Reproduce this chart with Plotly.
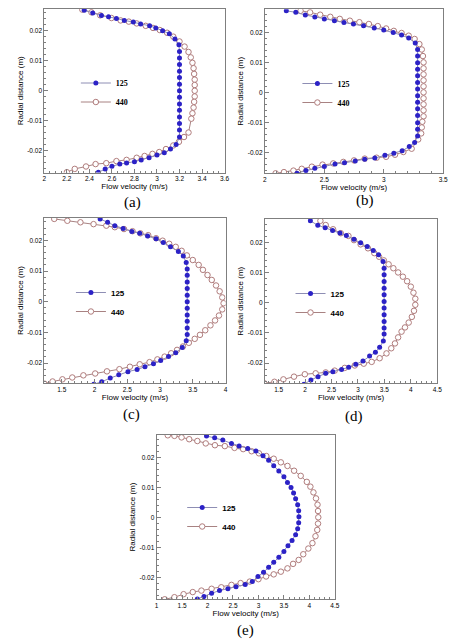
import plotly.graph_objects as go

# ---------------- data ----------------
series_names = ["125", "440"]
panel_labels = ["(a)", "(b)", "(c)", "(d)", "(e)"]
y_tick_vals = [-0.02, -0.01, 0, 0.01, 0.02]
y_tick_text = ["-0.02", "-0.01", "0", "0.01", "0.02"]

# panel (a)
a125_v = [2.354, 2.43, 2.507, 2.57, 2.64, 2.71, 2.79, 2.855, 2.935, 2.99, 3.05, 3.11, 3.16, 3.195, 3.20,
          3.20, 3.20, 3.20, 3.20, 3.20, 3.20, 3.20, 3.20, 3.20, 3.20, 3.20, 3.20,
          3.20, 3.17, 3.12, 3.065, 3.00, 2.93, 2.86, 2.80, 2.73, 2.67, 2.60, 2.54, 2.48]
a125_r = [0.0268, 0.0259, 0.0250, 0.0246, 0.0240, 0.0234, 0.0229, 0.0222, 0.0216, 0.0209, 0.0200, 0.0190, 0.0172, 0.0153, 0.0131,
          0.0109, 0.0087, 0.0065, 0.0044, 0.0022, 0.0, -0.0022, -0.0044, -0.0065, -0.0087, -0.0109, -0.0131,
          -0.0154, -0.0179, -0.0194, -0.0206, -0.0214, -0.0223, -0.0230, -0.0236, -0.0240, -0.0244, -0.0251, -0.0260, -0.0271]
a440_v = [2.337, 2.418, 2.496, 2.596, 2.677, 2.75, 2.82, 2.90, 2.965, 3.025, 3.09, 3.145, 3.20, 3.245, 3.28,
          3.30, 3.315, 3.325, 3.33, 3.335, 3.335, 3.335, 3.335, 3.33, 3.325, 3.315, 3.305,
          3.28, 3.24, 3.195, 3.145, 3.08, 3.02, 2.96, 2.89, 2.82, 2.73, 2.64, 2.55, 2.455, 2.37, 2.27, 2.20]
a440_r = [0.0270, 0.0261, 0.0251, 0.0242, 0.0234, 0.0230, 0.0224, 0.0216, 0.0209, 0.0202, 0.0193, 0.0180, 0.0164, 0.0147, 0.0129,
          0.0111, 0.0093, 0.0075, 0.0056, 0.0037, 0.0019, 0.0, -0.0019, -0.0037, -0.0056, -0.0075, -0.0093,
          -0.0139, -0.0154, -0.0170, -0.0182, -0.0194, -0.0204, -0.0210, -0.0217, -0.0223, -0.0230, -0.0234, -0.0241, -0.0244, -0.0252, -0.0260, -0.0271]

# panel (b)
b125_v = [2.18, 2.26, 2.34, 2.42, 2.50, 2.585, 2.665, 2.745, 2.83, 2.92, 3.00, 3.08, 3.15, 3.21, 3.265, 3.285, 3.285,
          3.285, 3.285, 3.285, 3.285, 3.285, 3.285, 3.285, 3.285, 3.285, 3.285, 3.285, 3.285,
          3.26, 3.215, 3.155, 3.085, 3.01, 2.925, 2.84, 2.76, 2.67, 2.59, 2.50, 2.42, 2.345, 2.27]
b125_r = [0.0272, 0.0267, 0.0258, 0.0251, 0.0245, 0.0239, 0.0233, 0.0228, 0.0222, 0.0215, 0.0208, 0.0200, 0.0191, 0.0181, 0.0165, 0.0143, 0.0121,
          0.0099, 0.0077, 0.0055, 0.0033, 0.0011, -0.0011, -0.0033, -0.0055, -0.0077, -0.0101, -0.0123, -0.0146,
          -0.0167, -0.0181, -0.0195, -0.0203, -0.0210, -0.0219, -0.0223, -0.0229, -0.0235, -0.0239, -0.0247, -0.0253, -0.0261, -0.0270]
b440_v = [2.30, 2.38, 2.465, 2.55, 2.63, 2.715, 2.795, 2.875, 2.95, 3.02, 3.085, 3.15, 3.21, 3.26, 3.30, 3.32, 3.33,
          3.335, 3.335, 3.335, 3.335, 3.335, 3.335, 3.335, 3.335, 3.335, 3.335,
          3.325, 3.32, 3.315, 3.29, 3.235, 3.165, 3.095, 3.02, 2.94, 2.84, 2.75, 2.66, 2.575, 2.485, 2.395, 2.31, 2.24, 2.16, 2.09]
b440_r = [0.0272, 0.0267, 0.0259, 0.0252, 0.0245, 0.0239, 0.0234, 0.0228, 0.0221, 0.0213, 0.0205, 0.0198, 0.0189, 0.0178, 0.0161, 0.0143, 0.0121,
          0.0100, 0.0080, 0.0060, 0.0040, 0.0020, 0.0, -0.0020, -0.0040, -0.0060, -0.0080,
          -0.0098, -0.0117, -0.0137, -0.0157, -0.0188, -0.0199, -0.0208, -0.0215, -0.0218, -0.0221, -0.0227, -0.0232, -0.0237, -0.0241, -0.0248, -0.0255, -0.0261, -0.0266, -0.0270]

# panel (c)
c125_v = [2.086, 2.20, 2.31, 2.437, 2.57, 2.69, 2.81, 2.94, 3.05, 3.16, 3.28, 3.355, 3.40,
          3.415, 3.415, 3.415, 3.415, 3.415, 3.415, 3.415, 3.415, 3.415, 3.415, 3.415,
          3.40, 3.34, 3.24, 3.13, 3.01, 2.90, 2.77, 2.65, 2.51, 2.37, 2.24, 2.11, 1.99]
c125_r = [0.0270, 0.0259, 0.0248, 0.0239, 0.0229, 0.0223, 0.0214, 0.0205, 0.0193, 0.0179, 0.0164, 0.0149, 0.0128,
          0.0107, 0.0086, 0.0064, 0.0043, 0.0021, 0.0, -0.0021, -0.0043, -0.0064, -0.0086, -0.0107,
          -0.0127, -0.0149, -0.0166, -0.0179, -0.0192, -0.0202, -0.0212, -0.0221, -0.0228, -0.0238, -0.0249, -0.0261, -0.0269]
c440_v = [1.385, 1.585, 1.785, 1.985, 2.18, 2.31, 2.45, 2.58, 2.70, 2.82, 2.94, 3.04, 3.14, 3.24, 3.33, 3.41, 3.50, 3.59,
          3.655, 3.725, 3.79, 3.855, 3.91, 3.95, 3.97, 3.95, 3.90, 3.84, 3.77, 3.69, 3.61, 3.53, 3.44, 3.35, 3.26, 3.17,
          3.07, 2.96, 2.84, 2.69, 2.54, 2.38, 2.19, 2.01, 1.83, 1.66, 1.51, 1.36, 1.234]
c440_r = [0.0270, 0.0264, 0.0259, 0.0253, 0.0248, 0.0243, 0.0237, 0.0230, 0.0223, 0.0217, 0.0207, 0.0199, 0.0189, 0.0179, 0.0166, 0.0151, 0.0136, 0.0120,
          0.0104, 0.0087, 0.0071, 0.0053, 0.0034, 0.0014, -0.0005, -0.0025, -0.0045, -0.0061, -0.0077, -0.0093, -0.0108, -0.0121, -0.0134, -0.0146, -0.0157, -0.0168,
          -0.0179, -0.0188, -0.0197, -0.0204, -0.0212, -0.0220, -0.0227, -0.0234, -0.0240, -0.0247, -0.0253, -0.0260, -0.0267]

# panel (d)
d125_v = [2.10, 2.24, 2.38, 2.52, 2.66, 2.78, 2.925, 3.05, 3.175, 3.29, 3.39, 3.475, 3.495,
          3.495, 3.495, 3.495, 3.495, 3.495, 3.495, 3.495, 3.495, 3.495, 3.495,
          3.48, 3.41, 3.33, 3.22, 3.095, 2.96, 2.825, 2.69, 2.525, 2.39, 2.245, 2.11, 1.98]
d125_r = [0.0271, 0.0256, 0.0248, 0.0239, 0.0231, 0.0222, 0.0210, 0.0198, 0.0186, 0.0173, 0.0159, 0.0136, 0.0114,
          0.0092, 0.0070, 0.0048, 0.0026, 0.0004, -0.0018, -0.0040, -0.0062, -0.0084, -0.0104,
          -0.0127, -0.0148, -0.0164, -0.0177, -0.0193, -0.0204, -0.0214, -0.0221, -0.0229, -0.0234, -0.0245, -0.0256, -0.0270]
d440_v = [2.29, 2.39, 2.53, 2.675, 2.82, 2.925, 3.05, 3.19, 3.31, 3.40, 3.49, 3.58, 3.67, 3.76, 3.85, 3.93, 4.00, 4.05,
          4.085, 4.085, 4.06, 4.02, 3.96, 3.89, 3.825, 3.76, 3.70, 3.63, 3.54, 3.41, 3.26, 3.11, 2.94, 2.75, 2.56,
          2.39, 2.20, 1.995, 1.79, 1.59, 1.42, 1.23]
d440_r = [0.0271, 0.0257, 0.0243, 0.0230, 0.0221, 0.0207, 0.0193, 0.0180, 0.0164, 0.0152, 0.0140, 0.0127, 0.0114, 0.0100, 0.0086, 0.0071, 0.0053, 0.0033,
          0.0013, -0.0007, -0.0027, -0.0047, -0.0066, -0.0082, -0.0096, -0.0115, -0.0135, -0.0151, -0.0168, -0.0184, -0.0196, -0.0202, -0.0208, -0.0216, -0.0225,
          -0.0231, -0.0234, -0.0237, -0.0245, -0.0254, -0.0262, -0.0267]

# panel (e)
e125_v = [1.98, 2.14, 2.30, 2.47, 2.62, 2.79, 2.95, 3.09, 3.20, 3.30, 3.40, 3.50, 3.57, 3.64, 3.69, 3.73, 3.77, 3.79,
          3.795, 3.79, 3.77, 3.73, 3.66, 3.58, 3.50, 3.40, 3.30, 3.20, 3.10, 2.99, 2.88, 2.74, 2.56, 2.40, 2.235, 2.08, 1.93, 1.80]
e125_r = [0.0271, 0.0265, 0.0257, 0.0246, 0.0237, 0.0229, 0.0221, 0.0205, 0.0190, 0.0172, 0.0154, 0.0135, 0.0116, 0.0099, 0.0081, 0.0062, 0.0042, 0.0022,
          0.0002, -0.0018, -0.0038, -0.0058, -0.0077, -0.0095, -0.0114, -0.0133, -0.0150, -0.0166, -0.0183, -0.0197, -0.0214, -0.0224, -0.0231, -0.0238, -0.0244, -0.0253, -0.0264, -0.0272]
e440_v = [1.22, 1.35, 1.49, 1.64, 1.80, 1.965, 2.145, 2.34, 2.53, 2.70, 2.865, 3.01, 3.155, 3.30, 3.44, 3.57, 3.70, 3.83, 3.95, 4.02,
          4.08, 4.13, 4.16, 4.17, 4.175, 4.17, 4.155, 4.12, 4.06, 3.98, 3.88, 3.79, 3.68, 3.57, 3.44, 3.30, 3.15, 3.00, 2.83, 2.65,
          2.47, 2.27, 2.08, 1.88, 1.71, 1.53, 1.35, 1.16]
e440_r = [0.0273, 0.0271, 0.0266, 0.0260, 0.0254, 0.0246, 0.0240, 0.0237, 0.0231, 0.0227, 0.0220, 0.0213, 0.0204, 0.0195, 0.0183, 0.0171, 0.0155, 0.0138, 0.0118, 0.0102,
          0.0083, 0.0063, 0.0042, 0.0021, 0.0, -0.0021, -0.0042, -0.0063, -0.0086, -0.0104, -0.0123, -0.0142, -0.0155, -0.0170, -0.0181, -0.0190, -0.0197, -0.0206, -0.0214, -0.0219,
          -0.0225, -0.0233, -0.0238, -0.0244, -0.0249, -0.0256, -0.0266, -0.0273]

panels_v125 = [a125_v, b125_v, c125_v, d125_v, e125_v]
panels_r125 = [a125_r, b125_r, c125_r, d125_r, e125_r]
panels_v440 = [a440_v, b440_v, c440_v, d440_v, e440_v]
panels_r440 = [a440_r, b440_r, c440_r, d440_r, e440_r]

# ---------------- layout / style ----------------
W, H = 458, 640
# plot boxes in pixels: left, right, top, bottom
boxes = [(43, 226, 9, 172.5), (267, 448, 9.3, 173.3), (43, 227, 218, 383),
         (267, 442, 219, 383.3), (157, 338, 435, 599)]
x_ranges = [[2, 3.6], [2, 3.5], [1.234, 4], [1.24, 4.5], [1, 4.5]]
y_ranges = [[-0.0272, 0.0272], [-0.027, 0.0277], [-0.0265, 0.0273], [-0.0267, 0.0277], [-0.0272, 0.0274]]
x_dticks = [0.2, 0.5, 0.5, 0.5, 0.5]
x_minor = [0.05, 0.1, 0.1, 0.1, 0.1]
# legend: left x of line sample, centre y (pixels)
legend_pos = [(82, 92.5), (307, 93), (77, 302), (300, 303), (190, 517)]
legend_fonts = ["Liberation Serif", "Liberation Serif", "Liberation Sans", "Liberation Sans", "Liberation Sans"]
label_pos = [(133, 202), (369, 200), (132, 414), (357, 416), (247, 630)]

C125 = "#2C22C6"
C125_LINE = "#8E8EB4"
C440 = "#B07C7C"
C440_LINE = "#A88282"
FRAME = "#7F7F7F"
SANS = "Liberation Sans"

fig = go.Figure()
layout = dict(width=W, height=H, margin=dict(l=0, r=0, t=0, b=0),
              paper_bgcolor="white", plot_bgcolor="white", showlegend=True)

annotations = []
for i in range(5):
    n = "" if i == 0 else str(i + 1)
    lg = "legend" if i == 0 else "legend" + str(i + 1)
    l, r, t, b = boxes[i]
    fig.add_trace(go.Scatter(
        x=panels_v440[i], y=panels_r440[i], mode="lines+markers", name=series_names[1],
        xaxis="x" + n, yaxis="y" + n, legend=lg, legendrank=2,
        line=dict(color=C440_LINE, width=1),
        marker=dict(symbol="circle", size=5.5, color="white", line=dict(color=C440, width=1))))
    fig.add_trace(go.Scatter(
        x=panels_v125[i], y=panels_r125[i], mode="lines+markers", name=series_names[0],
        xaxis="x" + n, yaxis="y" + n, legend=lg, legendrank=1,
        line=dict(color=C125_LINE, width=1),
        marker=dict(symbol="circle", size=5, color=C125, line=dict(width=0))))

    common = dict(showgrid=False, zeroline=False, showline=True, mirror=True,
                  linecolor=FRAME, linewidth=1, ticks="inside", ticklen=4, tickcolor=FRAME,
                  tickfont=dict(family=SANS, size=6.5, color="black"))
    layout["xaxis" + n] = dict(
        common, domain=[l / W, r / W], anchor="y" + n, range=x_ranges[i],
        tick0=0, dtick=x_dticks[i],
        minor=dict(ticks="inside", ticklen=2, dtick=x_minor[i], tick0=0, tickcolor=FRAME),
        title=dict(text="Flow velocity (m/s)", font=dict(family=SANS, size=8, color="black"), standoff=1))
    layout["yaxis" + n] = dict(
        common, domain=[1 - b / H, 1 - t / H], anchor="x" + n, range=y_ranges[i],
        tickvals=y_tick_vals, ticktext=y_tick_text,
        minor=dict(ticks="inside", ticklen=2, dtick=0.002, tick0=0, tickcolor=FRAME),
        title=dict(text="Radial distance (m)", font=dict(family=SANS, size=8, color="black"), standoff=2))
    lx, ly = legend_pos[i]
    layout[lg] = dict(x=(lx - 7) / W, y=1 - ly / H, xanchor="left", yanchor="middle",
                      bgcolor="rgba(0,0,0,0)", borderwidth=0, tracegroupgap=0,
                      font=dict(family=legend_fonts[i], size=8, color="black", weight="bold"),
                      itemwidth=30)
    px, py = label_pos[i]
    annotations.append(dict(x=px / W, y=1 - py / H, xref="paper", yref="paper",
                            xanchor="center", yanchor="middle",
                            text=panel_labels[i], showarrow=False,
                            font=dict(family="Liberation Serif", size=15, color="black")))

layout["annotations"] = annotations
fig.update_layout(**layout)
fig.write_html("out.html", config={"displayModeBar": False},
               post_script="document.body.style.margin='0';")
